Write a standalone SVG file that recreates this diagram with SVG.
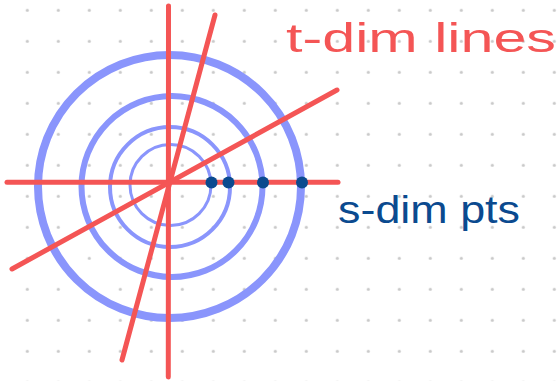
<svg xmlns="http://www.w3.org/2000/svg" width="560" height="381" viewBox="0 0 560 381">
  <style>
    .ring { fill: none; stroke: #8a95fc; }
    .tline { stroke: #f45555; stroke-width: 5; stroke-linecap: round; fill: none; }
    .pt { fill: #0b4a8f; }
    .lbl { font-family: "Liberation Sans", Arial, sans-serif; }
  </style>
  <defs>
    <pattern id="grid" patternUnits="userSpaceOnUse" x="11.8" y="-5.2" width="31" height="31">
      <circle cx="15.5" cy="15.5" r="1.6" fill="#c9c9c9"/>
    </pattern>
  </defs>
  <rect width="560" height="381" fill="#ffffff"/>
  <rect width="560" height="381" fill="url(#grid)"/>

  <g id="rings">
    <circle id="ring4" class="ring" cx="169.5" cy="186.5" r="131.5" stroke-width="8"/>
    <circle id="ring3" class="ring" cx="172" cy="186.5" r="90.5" stroke-width="6"/>
    <circle id="ring2" class="ring" cx="170" cy="187" r="60" stroke-width="4"/>
    <circle id="ring1" class="ring" cx="170.5" cy="185" r="40.5" stroke-width="3"/>
  </g>

  <g id="connectors">
    <line class="tline" x1="7" y1="182.3" x2="338" y2="182.3"/>
    <line class="tline" x1="168.5" y1="6" x2="168.3" y2="377"/>
    <line class="tline" x1="215" y1="15" x2="122" y2="360"/>
    <line class="tline" x1="337" y1="90" x2="12" y2="269"/>
  </g>

  <g id="points">
    <circle class="pt" cx="211.5" cy="182.5" r="6"/>
    <circle class="pt" cx="228.5" cy="182.5" r="6"/>
    <circle class="pt" cx="263" cy="182.5" r="6"/>
    <circle class="pt" cx="302" cy="182.5" r="6"/>
  </g>

  <g id="label-t">
    <text class="lbl" x="286" y="52" font-size="40" fill="#f45555" textLength="270" lengthAdjust="spacingAndGlyphs">t-dim lines</text>
  </g>
  <g id="label-s">
    <text class="lbl" x="338" y="223" font-size="38" fill="#0b4a8f" textLength="182" lengthAdjust="spacingAndGlyphs">s-dim pts</text>
  </g>
</svg>
